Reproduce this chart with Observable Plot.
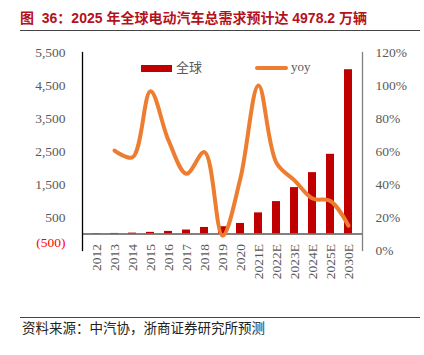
<!DOCTYPE html>
<html><head><meta charset="utf-8">
<script src="https://cdn.jsdelivr.net/npm/d3@7"></script>
<script src="https://cdn.jsdelivr.net/npm/@observablehq/plot@0.6"></script>
<style>
body{margin:0;background:#fff;}
#wrap{position:relative;width:424px;height:355px;overflow:hidden;background:#fff;}
#title{position:absolute;left:20px;top:8px;font:bold 14px "Liberation Sans",Arial,"Noto Sans CJK SC",sans-serif;color:#B5121B;white-space:nowrap;line-height:18px;}
#title .cjk{font-family:"Noto Sans CJK SC",sans-serif;}
#trule{position:absolute;left:20px;top:30px;width:400px;height:1px;background:#444;}
#chart{position:absolute;left:0;top:35px;}
.leg{position:absolute;font:13px "Liberation Serif","Noto Sans CJK SC",serif;color:#595959;line-height:14px;white-space:nowrap;}
#srule{position:absolute;left:20px;top:317px;width:400px;height:1px;background:#444;}
#source{position:absolute;left:22px;top:318px;font:13.5px "Noto Sans CJK SC",sans-serif;color:#222;white-space:nowrap;line-height:18px;}
</style></head>
<body>
<div id="wrap">
  <div id="title"><span class="cjk">图</span>&nbsp; 36<span class="cjk">：</span>2025 年全球电动汽车总需求预计达 4978.2 万辆</div>
  <div id="trule"></div>
  <div id="chart"></div>
  <div class="leg" style="left:141px;top:65px;width:31px;height:7px;background:#C00000;"></div>
  <div class="leg" style="left:176px;top:61px;">全球</div>
  <div class="leg" style="left:255px;top:66px;width:33px;height:4px;background:#ED7D31;border-radius:2px;"></div>
  <div class="leg" style="left:291px;top:60px;">yoy</div>
  <div id="srule"></div>
  <div id="source">资料来源：中汽协，浙商证券研究所预测</div>
</div>
<script>
const years = ["2012","2013","2014","2015","2016","2017","2018","2019","2020","2021E","2022E","2023E","2024E","2025E","2030E"];
const sales = [11, 17, 27, 50, 78, 120, 198, 220, 320, 640, 982, 1406, 1860, 2415, 4978.2];
const yoy = [null, 60.6, 56.5, 96.5, 66.7, 46.5, 59.6, 9, 44, 100, 53, 42.5, 31.5, 30, 15];
const leftTicks = [500, 1500, 2500, 3500, 4500, 5500];
const negTick = [-500];
const rightTicks = [0, 20, 40, 60, 80, 100, 120];

const data = years.map((y, i) => ({year: y, sales: sales[i], yoy: yoy[i]}));
const toLeft = p => -500 + p * 50;
const fromLeft = v => Math.round((v + 500) / 50);

const chart = Plot.plot({
  width: 424,
  height: 275,
  marginTop: 17,
  marginBottom: 60,
  marginLeft: 82,
  marginRight: 62,
  style: {fontFamily: "'Liberation Serif', 'Times New Roman', serif", fontSize: "13.5px", color: "#595959", background: "white"},
  x: {type: "band", domain: years, paddingInner: 0.55, paddingOuter: 0.275, axis: null},
  y: {domain: [-500, 5500], axis: null},
  marks: [
    Plot.barY(data, {x: "year", y: "sales", fill: "#C00000"}),
    Plot.ruleY([0], {stroke: "#595959", strokeWidth: 1.5}),
    Plot.line(data.filter(d => d.yoy != null), {x: "year", y: d => toLeft(d.yoy), stroke: "#ED7D31", strokeWidth: 4, curve: "catmull-rom"}),
    Plot.frame({anchor: "left", stroke: "#000", strokeWidth: 1.3}),
    Plot.frame({anchor: "right", stroke: "#808080", strokeWidth: 1.3}),
    Plot.axisY(leftTicks, {anchor: "left", label: null, tickSize: 0, tickPadding: 17, tickFormat: d3.format(",")}),
    Plot.text(negTick, {y: d => d, frameAnchor: "left", text: d => "(" + Math.abs(d) + ")", textAnchor: "end", dx: -17, dy: -8, fill: "#FF0000"}),
    Plot.axisY(rightTicks.map(toLeft), {anchor: "right", label: null, tickSize: 0, tickPadding: 13, tickFormat: v => fromLeft(v) + "%"}),
    Plot.text(data, {x: "year", y: () => 0, text: "year", rotate: -90, textAnchor: "end", dy: 10, fill: "#595959"})
  ]
});
document.getElementById("chart").appendChild(chart);
</script>
</body></html>
